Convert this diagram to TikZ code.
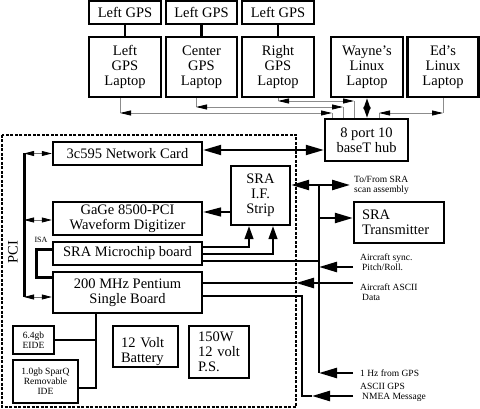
\documentclass[tikz,border=0pt]{standalone}
\usepackage{fontspec}
\setmainfont{Liberation Serif}
\usetikzlibrary{arrows.meta}
\newcommand{\boxfont}{\fontsize{14.5}{15}\selectfont}
\newcommand{\notefont}{\fontsize{9.5}{10}\selectfont}

\begin{document}
\begin{tikzpicture}[x=1pt, y=-1pt,
  box/.style={draw, line width=2.4pt, font=\boxfont, align=center, inner sep=1pt},
  smallbox/.style={box, font=\notefont},
  note/.style={font=\notefont, align=left, anchor=west, inner sep=0pt},
  wire/.style={line width=2.4pt},
  feed/.style={line width=2.4pt, -{Triangle[length=18pt,width=10pt]}},
  feedboth/.style={line width=2pt, {Triangle[length=18pt,width=10pt]}-{Triangle[length=18pt,width=10pt]}},
  upfeed/.style={line width=1.4pt, -{Triangle[length=13pt,width=9pt]}},
  lan/.style={draw=black!45, line width=0.8pt},
  lanboth/.style={lan, {Triangle[length=11pt,width=5pt,color=black]}-{Triangle[length=11pt,width=5pt,color=black]}},
  pcilink/.style={draw=black!55, line width=0.8pt, {Triangle[length=10pt,width=5pt,color=black]}-{Triangle[length=10pt,width=5pt,color=black]}},
]
\useasboundingbox (0,0) rectangle (480,409);

% system enclosure
\draw[line width=1.3pt, dash pattern=on 3pt off 1.5pt] (2,135) rectangle (296,407);

% GPS receivers and laptops
\node[box, minimum width=72pt, minimum height=23pt] (gpsL) at (125,12.75) {Left GPS};
\node[box, minimum width=71pt, minimum height=23pt] (gpsC) at (201.5,12.75) {Left GPS};
\node[box, minimum width=72pt, minimum height=23pt] (gpsR) at (278,12.75) {Left GPS};
\node[box, minimum width=72pt, minimum height=60pt] (lapL) at (125,67) {Left\\GPS\\Laptop};
\node[box, minimum width=71pt, minimum height=60pt] (lapC) at (201.5,67) {Center\\GPS\\Laptop};
\node[box, minimum width=72pt, minimum height=60pt] (lapR) at (278,67) {Right\\GPS\\Laptop};
\node[box, minimum width=72pt, minimum height=60pt] (lapW) at (367,67) {Wayne's\\Linux\\Laptop};
\node[box, minimum width=71pt, minimum height=60pt] (lapE) at (443,67) {Ed's\\Linux\\Laptop};
\node[box, minimum width=83pt, minimum height=42pt] (hub) at (366.5,140) {8 port 10\\baseT hub};

% boards inside the box
\node[box, minimum width=149pt, minimum height=23pt] (net) at (127.5,153.5) {3c595 Network Card};
\node[box, minimum width=149pt, minimum height=33pt] (gage) at (127.5,218.5) {GaGe 8500-PCI\\Waveform Digitizer};
\node[box, minimum width=149pt, minimum height=23pt] (chip) at (127.5,253.5) {SRA Microchip board};
\node[box, minimum width=149pt, minimum height=41pt] (pent) at (127.5,292.5) {200 MHz Pentium\\Single Board};
\node[box, minimum width=59pt, minimum height=59pt] (strip) at (260.5,195.5) {SRA\\I.F.\\Strip};
\node[box, minimum width=90pt, minimum height=41pt, align=left, text width=74pt, inner xsep=8pt] (xmit) at (399,222.5) {SRA\\Transmitter};
\node[smallbox, minimum width=41pt, minimum height=28pt] (eide) at (33.5,340) {6.4gb\\EIDE};
\node[smallbox, minimum width=65pt, minimum height=43pt] (sparq) at (45.5,381.5) {1.0gb SparQ\\Removable\\IDE};
\node[box, minimum width=65pt, minimum height=41pt, align=left, text width=49pt, inner xsep=8pt, text depth=9pt] (batt) at (145.5,346.5) {12 Volt\\Battery};
\node[box, minimum width=60pt, minimum height=52pt, align=left, text width=42pt, inner xsep=9pt] (psu) at (219,352) {150W\\12 volt\\P.S.};

\node[font=\boxfont, rotate=90] (pciLbl) at (13,252) {PCI};
\node[font=\fontsize{8}{9}\selectfont] (isaLbl) at (41,240) {ISA};

% outside signals
\node[note] (scanLbl) at (354,185.5) {To/From SRA\\scan assembly};
\node[note] (syncLbl) at (360,262.5) {Aircraft sync.\\\hspace{2pt}Pitch/Roll.};
\node[note] (asciiLbl) at (360,292) {Aircraft ASCII\\\hspace{2pt}Data};
\node[note] (ppsLbl) at (360,373) {1 Hz from GPS};
\node[note] (nmeaLbl) at (360,392.5) {ASCII GPS\\\hspace{2pt}NMEA Message};

% receiver cables
\draw[wire] (gpsL.south) -- (lapL.north);
\draw[wire] (gpsC.south) -- (lapC.north);
\draw[wire] (gpsR.south) -- (lapR.north);

% ethernet
\coordinate (lnL) at (120,113);
\coordinate (lnLe) at (332,113);
\coordinate (lnC) at (196,107);
\coordinate (lnCe) at (343,107);
\coordinate (lnR) at (278,101);
\coordinate (lnRe) at (354,101);
\coordinate (lnE) at (379,113);
\coordinate (lnEe) at (443,113);
\draw[lan] (lapL.south -| lnL) -- (lnL);
\draw[lanboth] (lnL) -- (lnLe);
\draw[lan] (lnLe) -- (hub.north -| lnLe);
\draw[lan] (lapC.south -| lnC) -- (lnC);
\draw[lanboth] (lnC) -- (lnCe);
\draw[lan] (lnCe) -- (hub.north -| lnCe);
\draw[lan] (lapR.south -| lnR) -- (lnR);
\draw[lanboth] (lnR) -- (lnRe);
\draw[lan] (lnRe) -- (hub.north -| lnRe);
\draw[lan] (hub.north -| lnE) -- (lnE);
\draw[lanboth] (lnE) -- (lnEe);
\draw[lan] (lnEe) -- (lapE.south -| lnEe);
\draw[line width=1.4pt, {Triangle[length=11pt,width=7pt]}-{Triangle[length=11pt,width=7pt]}] (lapW.south) -- (lapW.south |- hub.north);
\coordinate (netLink) at (250,150);
\draw[feedboth] (net.east |- netLink) -- (hub.west |- netLink);

% PCI and ISA buses
\coordinate (pciTop) at (24,153.5);
\coordinate (pciMid) at (24,220);
\coordinate (pciBot) at (24,297);
\draw[line width=3pt] (pciTop) -- (pciBot);
\draw[pcilink] (pciTop) -- (net.west |- pciTop);
\draw[pcilink] (pciMid) -- (gage.west |- pciMid);
\draw[pcilink] (pciBot) -- (pent.west |- pciBot);
\coordinate (isaTop) at (36,250);
\coordinate (isaBot) at (36,278);
\draw[line width=3pt] (chip.west |- isaTop) -- (isaTop) -- (isaBot) -- (pent.west |- isaBot);

% I.F. strip
\coordinate (gageLink) at (220,212);
\draw[line width=1.6pt, -{Triangle[length=18pt,width=9pt]}] (strip.west |- gageLink) -- (gage.east |- gageLink);
\coordinate (chipA) at (249,247);
\coordinate (chipB) at (273,254);
\draw[upfeed] (chip.east |- chipA) -| (strip.south -| chipA);
\draw[upfeed] (chip.east |- chipB) -| (strip.south -| chipB);

% signal trunk
\coordinate (trunkTop) at (319,185);
\coordinate (trunkBot) at (319,373);
\coordinate (scanOut) at (350,185);
\coordinate (xmitTap) at (319,218);
\coordinate (chipTap) at (319,261);
\coordinate (syncIn) at (353,267);
\coordinate (ppsIn) at (353,373);
\draw[wire] (trunkTop) -- (trunkBot);
\draw[feedboth, line width=2.4pt] (strip.east |- trunkTop) -- (scanOut);
\draw[feed] (xmitTap) -- (xmit.west |- xmitTap);
\draw[wire] (chip.east |- chipTap) -- (chipTap);
\draw[feed] (syncIn) -- (trunkBot |- syncIn);
\draw[feed] (ppsIn) -- (trunkBot);

% serial data into the Pentium
\coordinate (asciiIn) at (353,283);
\coordinate (asciiTip) at (296,283);
\draw[feed] (asciiIn) -- (asciiTip);
\draw[wire] (asciiTip) -- (pent.east |- asciiTip);
\coordinate (nmeaIn) at (353,396);
\coordinate (nmeaTip) at (312,396);
\coordinate (nmeaCorner) at (302,296);
\draw[feed] (nmeaIn) -- (nmeaTip);
\draw[wire] (nmeaTip) -| (nmeaCorner) -- (pent.east |- nmeaCorner);

% disks
\coordinate (diskBus) at (96,388);
\draw[wire] (pent.south -| diskBus) -- (diskBus) -- (sparq.east |- diskBus);
\draw[wire] (eide.east) -- (eide.east -| diskBus);
\end{tikzpicture}
\end{document}
